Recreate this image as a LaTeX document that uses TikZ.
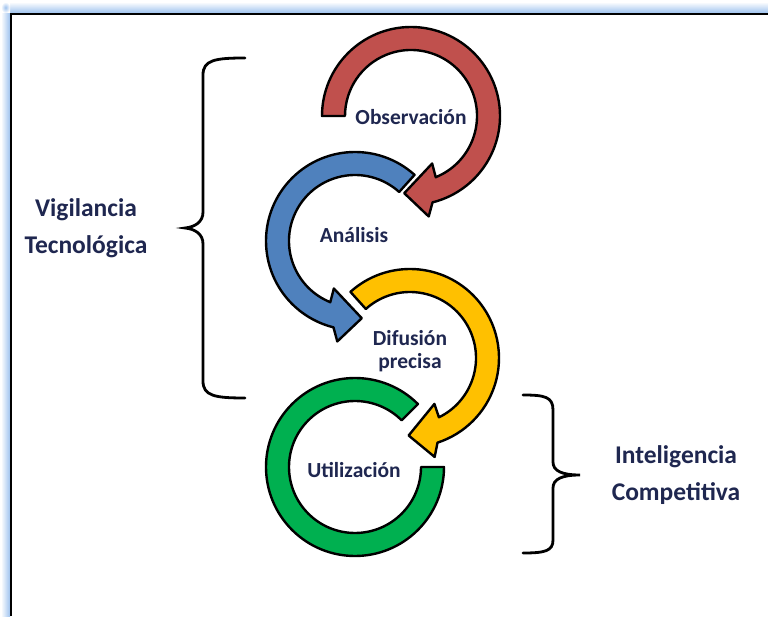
\documentclass[tikz,border=0pt]{standalone}
\usepackage{fontspec}
\setmainfont{Carlito}
\definecolor{ringred}{HTML}{C0504D}
\definecolor{ringblue}{HTML}{4F81BD}
\definecolor{ringyellow}{HTML}{FFC000}
\definecolor{ringgreen}{HTML}{00B050}
\definecolor{txtnavy}{HTML}{1F2750}
\definecolor{glowblue}{HTML}{9EC2EE}
\newcommand{\Rout}{89}
\newcommand{\Rin}{66}
\newcommand{\Rm}{77.5}
\newcommand{\Rbo}{102}
\newcommand{\Rbi}{52}
% #1 cx, #2 cy, #3 start angle, #4 ref end angle, #5 direction (+1 ccw, -1 cw), #6 colour
\newcommand{\ringarrow}[6]{%
  \pgfmathsetmacro{\eo}{#4+#5*4}%
  \pgfmathsetmacro{\bo}{#4+#5*8}%
  \pgfmathsetmacro{\tp}{#4+#5*23}%
  \pgfmathsetmacro{\bi}{#4-#5*6}%
  \pgfmathsetmacro{\ei}{#4-#5*4}%
  \begin{scope}[shift={(#1,#2)}]
    \filldraw[ringline, fill=#6] (#3:\Rout) arc[start angle=#3, end angle=\eo, radius=\Rout]
      -- (\bo:\Rbo) -- (\tp:\Rm) -- (\bi:\Rbi) -- (\ei:\Rin)
      arc[start angle=\ei, end angle=#3, radius=\Rin] -- cycle;
  \end{scope}}
\begin{document}
\begin{tikzpicture}[x=1pt,y=1pt,
  ringline/.style={draw=black, line width=2.4pt, line join=round},
  bracestyle/.style={draw=black, line width=2.8pt, line cap=round},
  steplabel/.style={text=txtnavy, font=\fontsize{21.5}{22.5}\selectfont\bfseries, align=center, inner sep=0pt},
  grouplabel/.style={text=txtnavy, font=\fontsize{25.5}{37}\selectfont\bfseries, align=center, inner sep=0pt}]
\useasboundingbox (0,0) rectangle (768,616);
\fill[white] (0,0) rectangle (768,616);
% frame glow
\shade[left color=white, right color=glowblue] (1,0) rectangle (10,604);
\shade[top color=white, bottom color=glowblue] (10,603) rectangle (768,614);
\shade[inner color=glowblue, outer color=white] (1,603) rectangle (10,614);
\draw[black, line width=2pt] (11,0) -- (11,602) -- (768,602);
% rings
\begin{scope}[shift={(355,149)}]
  \filldraw[ringline, fill=ringgreen] (45:\Rout) arc[start angle=45, end angle=360, radius=\Rout]
    -- (0:\Rin) arc[start angle=360, end angle=45, radius=\Rin] -- cycle;
\end{scope}
\ringarrow{410}{258}{132}{-68}{-1}{ringyellow}
\ringarrow{355}{375}{48}{252}{1}{ringblue}
\ringarrow{411}{500}{180}{-72}{-1}{ringred}
% labels
\node[steplabel] (obs) at (411,499) {Observación};
\node[steplabel] (ana) at (354,381) {Análisis};
\node[steplabel] (dif) at (410,265) {Difusión\\precisa};
\node[steplabel] (uti) at (354,146) {Utilización};
\node[grouplabel] (vig) at (86,388) {Vigilancia\\Tecnológica};
\node[grouplabel] (intel) at (676,141) {Inteligencia\\Competitiva};
% braces
\draw[bracestyle] (245,558) .. controls (215,558) and (203,556) .. (203,541)
  -- (203,404) .. controls (203,394) and (195,389) .. (185,388)
  .. controls (195,387) and (203,382) .. (203,372)
  -- (203,235) .. controls (203,220) and (215,218) .. (245,218);
\draw[bracestyle] (523,221) .. controls (545,221) and (553,219) .. (553,206)
  -- (553,154) .. controls (553,145) and (562,141) .. (580,141)
  .. controls (562,141) and (553,137) .. (553,128)
  -- (553,76) .. controls (553,65) and (545,63) .. (523,63);
\end{tikzpicture}
\end{document}
